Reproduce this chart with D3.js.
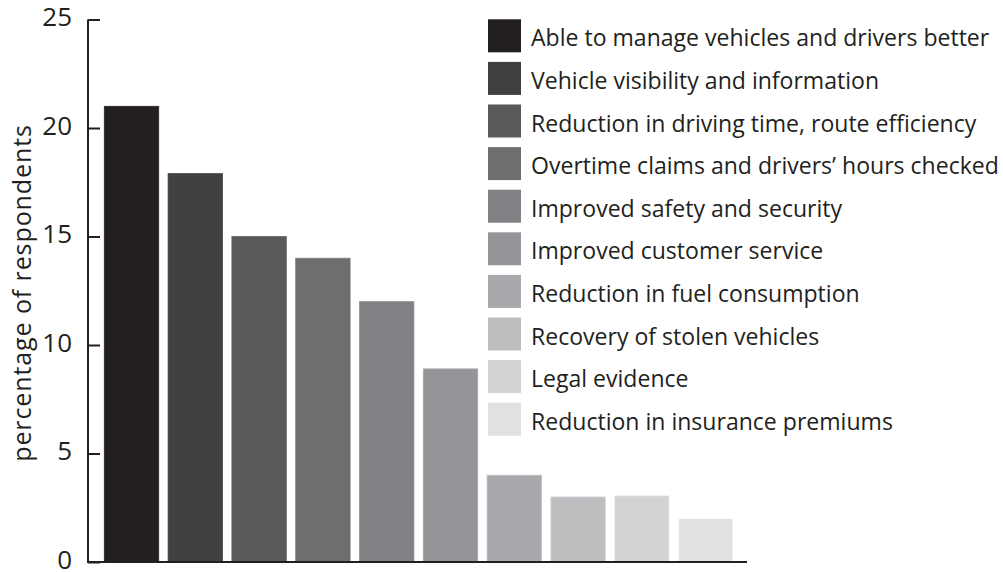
<!DOCTYPE html>
<html>
<head>
<meta charset="utf-8">
<script src="https://cdn.jsdelivr.net/npm/d3@7"></script>
<style>
  body { margin: 0; background: #fff; }
  text { font-family: "Open Sans", sans-serif; fill: #231f20; }
</style>
</head>
<body>
<svg id="chart" width="1003" height="572"></svg>
<script>
// benefits reported, in the order of the legend
const categories = [
  'Able to manage vehicles and drivers better',
  'Vehicle visibility and information',
  'Reduction in driving time, route efficiency',
  'Overtime claims and drivers\u2019 hours checked',
  'Improved safety and security',
  'Improved customer service',
  'Reduction in fuel consumption',
  'Recovery of stolen vehicles',
  'Legal evidence',
  'Reduction in insurance premiums'
];
const values = [21, 17.9, 15, 14, 12, 8.9, 4, 3, 3.05, 2];
const shades = ['#231f20', '#404041', '#58595b', '#6d6e70', '#808285',
                '#939598', '#a7a9ac', '#bcbec0', '#d1d3d4', '#e0e1e2'];
const yTicks = [0, 5, 10, 15, 20, 25];
const yLabel = 'percentage of respondents';

const svg = d3.select('#chart');
const axisX = 88, axisTop = 19.5, axisBottom = 562;

const y = d3.scaleLinear().domain([0, 25]).range([axisBottom, axisTop]);
const x = d3.scaleBand()
  .domain(categories)
  .range([99.6, 737.6])
  .paddingInner(0.147)
  .paddingOuter(0.0735);

// bars
svg.append('g').selectAll('rect')
  .data(categories)
  .enter().append('rect')
  .attr('x', d => x(d))
  .attr('width', x.bandwidth())
  .attr('y', (d, i) => y(values[i]))
  .attr('height', (d, i) => axisBottom - y(values[i]))
  .attr('fill', (d, i) => shades[i])
  .attr('stroke', (d, i) => d3.color(shades[i]).brighter(0.35))
  .attr('stroke-width', 0.8);

// y axis, ticks point inward
const yAxis = svg.append('g')
  .attr('transform', `translate(${axisX},0)`)
  .call(d3.axisLeft(y).tickValues(yTicks).tickSize(-12).tickPadding(16));
yAxis.select('.domain').remove();
yAxis.selectAll('.tick line').attr('stroke', '#231f20').attr('stroke-width', 2);
yAxis.selectAll('.tick text')
  .attr('dy', '0.24em')
  .style('font-size', '26px')
  .style('font-family', '"Open Sans", sans-serif')
  .attr('fill', '#231f20');

svg.append('line')
  .attr('x1', axisX).attr('x2', axisX)
  .attr('y1', axisTop).attr('y2', axisBottom + 1)
  .attr('stroke', '#231f20').attr('stroke-width', 2);
svg.append('line')
  .attr('x1', axisX - 1).attr('x2', 747)
  .attr('y1', axisBottom).attr('y2', axisBottom)
  .attr('stroke', '#231f20').attr('stroke-width', 2);

svg.append('text')
  .attr('transform', 'translate(31, 293) rotate(-90)')
  .attr('text-anchor', 'middle')
  .style('font-size', '25px')
  .style('letter-spacing', '0.9px')
  .text(yLabel);

// legend
const legend = svg.append('g');
const rowStep = 42.6;
const rows = legend.selectAll('g')
  .data(categories)
  .enter().append('g')
  .attr('transform', (d, i) => `translate(488, ${19.3 + i * rowStep})`);

rows.append('rect')
  .attr('width', 33).attr('height', 33)
  .attr('fill', (d, i) => shades[i]);

const labels = rows.append('text')
  .attr('x', 43)
  .attr('y', 27)
  .style('font-size', '24px')
  .text(d => d);

// shrink the font so the longest label ends near the right edge
const widest = d3.max(labels.nodes(), n => n.getComputedTextLength());
const legendSize = Math.min(24, 24 * 468 / widest);
labels.style('font-size', legendSize + 'px');
</script>
</body>
</html>
